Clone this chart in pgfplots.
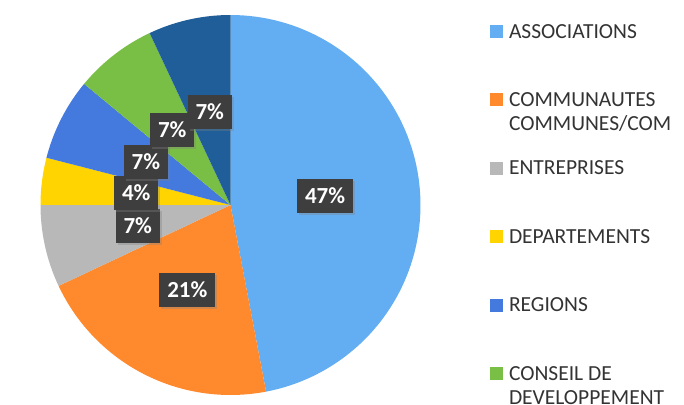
\documentclass[border=0pt]{standalone}
\usepackage{fontspec}
\setmainfont{Carlito}
\usepackage{pgfplots}
\usepackage{pgfplotstable}
\pgfplotsset{compat=1.18}
\usetikzlibrary{shadows}

\definecolor{cAsso}{HTML}{63ADF2}
\definecolor{cComm}{HTML}{FF8A2D}
\definecolor{cEntr}{HTML}{B8B8B8}
\definecolor{cDept}{HTML}{FFD400}
\definecolor{cRegi}{HTML}{4479DD}
\definecolor{cCons}{HTML}{79BF45}
\definecolor{cAutr}{HTML}{1F5E98}
\definecolor{lblbox}{HTML}{3E3E3E}
\definecolor{legtext}{HTML}{333333}

% shares in percent, clockwise from 12 o'clock
\pgfplotstableread{
value
47
21
7
4
7
7
7
}\piedata

\newcommand\lent[1]{\parbox[t]{175bp}{\raggedright #1}}
\tikzset{lbl/.style={fill=lblbox, text=white, inner xsep=8bp, inner ysep=0pt,
    minimum height=34bp, text height=15bp, text depth=0bp,
    font=\fontsize{23bp}{26bp}\selectfont\bfseries,
    drop shadow={opacity=0.35, shadow xshift=2bp, shadow yshift=-2bp}}}

\begin{document}
\begin{tikzpicture}
\useasboundingbox (0,0) rectangle (684bp,405bp);
\clip (0,0) rectangle (684bp,405bp);
% start / end / middle angle of every slice
\def\cum{90}
\pgfplotsforeachungrouped \i in {0,...,6}{%
  \pgfplotstablegetelem{\i}{value}\of\piedata
  \expandafter\xdef\csname pv\i\endcsname{\pgfplotsretval}
  \pgfmathsetmacro\nxt{\cum-3.6*\pgfplotsretval}
  \pgfmathsetmacro\mid{(\cum+\nxt)/2}
  \expandafter\xdef\csname pa\i\endcsname{\cum}
  \expandafter\xdef\csname pb\i\endcsname{\nxt}
  \expandafter\xdef\csname pm\i\endcsname{\mid}
  \global\let\cum\nxt
}
\begin{axis}[
    x=1bp, y=1bp,
    xmin=-230.5, xmax=453.5,
    ymin=-200, ymax=205,
    hide axis,
    clip=false,
    legend image code/.code={\fill[#1] (0bp,0bp) rectangle (13bp,13bp);},
    legend style={at={(0.7164,0.9407)}, anchor=north west,
        draw=none, fill=none, inner sep=0pt, outer sep=0pt,
        row sep=54.4bp, column sep=6bp,
        font=\fontsize{21.5bp}{24bp}\selectfont, text=legtext,
        nodes={text height=14bp, text depth=0bp, inner sep=0pt},
        cells={anchor=base west}},
]
\newcommand\pieslice[2]{%
  \addplot[fill=#2, draw=none, domain=\csname pb#1\endcsname:\csname pa#1\endcsname,
    samples=90, variable=\t] ({190*cos(\t)},{190*sin(\t)}) -- (axis cs:0,0) -- cycle;}

\pieslice{0}{cAsso}
\addlegendentry{\lent{ASSOCIATIONS}}
\pieslice{1}{cComm}
\addlegendentry{\lent{COMMUNAUTES\\COMMUNES/COM}}
\pieslice{2}{cEntr}
\addlegendentry{\lent{ENTREPRISES}}
\pieslice{3}{cDept}
\addlegendentry{\lent{DEPARTEMENTS}}
\pieslice{4}{cRegi}
\addlegendentry{\lent{REGIONS}}
\pieslice{5}{cCons}
\addlegendentry{\lent{CONSEIL DE\\DEVELOPPEMENT}}
\pieslice{6}{cAutr}

\pgfplotsinvokeforeach{0,...,6}{
  \node[lbl] at (axis cs:{95*cos(\csname pm#1\endcsname)},{95*sin(\csname pm#1\endcsname)})
    {\csname pv#1\endcsname\%};
}
\end{axis}
\end{tikzpicture}
\end{document}
